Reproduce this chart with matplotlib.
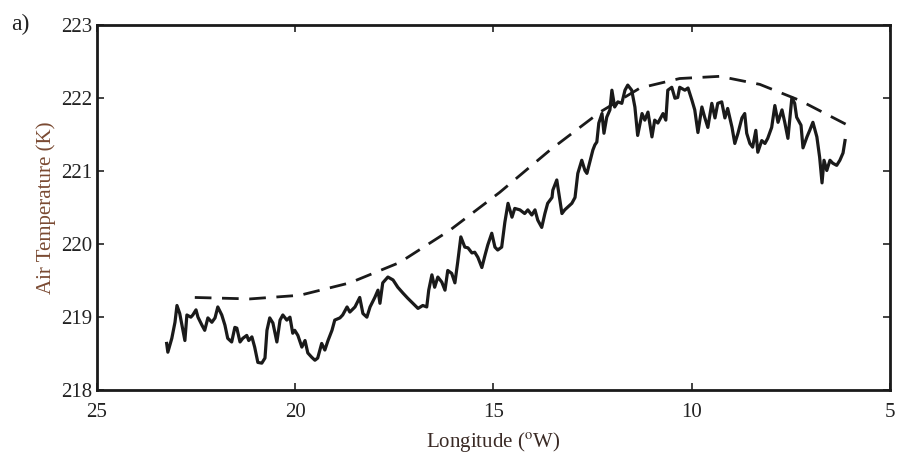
import matplotlib
matplotlib.use("Agg")
import matplotlib.pyplot as plt

plt.rcParams['font.family'] = ['Liberation Serif', 'DejaVu Serif']
plt.rcParams['mathtext.fontset'] = 'stix'

# Measured (noisy) air temperature along the track
lon_obs = [23.24, 23.21, 23.11, 23.03, 22.98, 22.91, 22.83, 22.78, 22.73, 22.63,
           22.58, 22.50, 22.45, 22.35, 22.28, 22.20, 22.10, 22.02, 21.95, 21.85,
           21.77, 21.70, 21.60, 21.52, 21.47, 21.39, 21.32, 21.22, 21.17, 21.09,
           21.02, 20.94, 20.84, 20.76, 20.71, 20.64, 20.56, 20.46, 20.38, 20.31,
           20.21, 20.13, 20.06, 20.01, 19.93, 19.83, 19.75, 19.68, 19.58, 19.50,
           19.43, 19.33, 19.25, 19.17, 19.07, 19.00, 18.87,
           18.80, 18.69, 18.62, 18.49, 18.37, 18.29, 18.19, 18.11, 17.99, 17.91,
           17.86, 17.79, 17.66, 17.53, 17.41, 17.28, 17.16, 17.03, 16.90, 16.78,
           16.68, 16.63, 16.55, 16.48, 16.40, 16.30, 16.22, 16.15, 16.05, 15.97,
           15.90, 15.82, 15.72, 15.64, 15.54, 15.47, 15.39, 15.29, 15.21, 15.14,
           15.04, 14.96, 14.89, 14.79, 14.71,
           14.63, 14.53, 14.46, 14.33, 14.21, 14.13, 14.03, 13.95, 13.88, 13.78,
           13.70, 13.63, 13.52, 13.50, 13.40, 13.35, 13.27, 13.20, 13.12, 13.02,
           12.94, 12.87, 12.77, 12.69, 12.64, 12.57, 12.49, 12.44, 12.39, 12.34,
           12.26, 12.21, 12.14, 12.06, 12.01, 11.94, 11.86, 11.76, 11.68, 11.61,
           11.51, 11.43, 11.36, 11.25, 11.18, 11.10, 11.00, 10.93, 10.85, 10.72,
           10.65, 10.60, 10.50, 10.42, 10.35,
           10.30, 10.17, 10.09, 9.99, 9.92, 9.84, 9.74, 9.67, 9.59, 9.49,
           9.41, 9.34, 9.24, 9.16, 9.09, 8.98, 8.91, 8.83, 8.73, 8.66,
           8.61, 8.53, 8.46, 8.38, 8.33, 8.23, 8.15, 8.08, 7.98, 7.90,
           7.82, 7.72, 7.65, 7.57, 7.47, 7.40, 7.35, 7.24, 7.19, 7.09,
           7.02, 6.94, 6.84, 6.77, 6.71, 6.66, 6.59, 6.51, 6.44, 6.34,
           6.26, 6.18, 6.13]
temp_obs = [218.64, 218.52, 218.71, 218.93, 219.16, 219.05, 218.82, 218.68, 219.03, 219.00,
            219.03, 219.10, 219.00, 218.89, 218.82, 218.99, 218.93, 218.99, 219.14, 219.03,
            218.89, 218.71, 218.66, 218.86, 218.85, 218.66, 218.71, 218.75, 218.68, 218.73,
            218.59, 218.38, 218.37, 218.44, 218.82, 218.99, 218.92, 218.66, 218.96, 219.03,
            218.96, 219.00, 218.78, 218.82, 218.75, 218.59, 218.68, 218.51, 218.45, 218.41,
            218.44, 218.64, 218.55, 218.68, 218.82, 218.96, 218.99,
            219.03, 219.14, 219.07, 219.14, 219.27, 219.05, 219.00, 219.14, 219.27, 219.37,
            219.19, 219.47, 219.55, 219.51, 219.41, 219.33, 219.26, 219.19, 219.12, 219.16,
            219.14, 219.37, 219.58, 219.41, 219.55, 219.48, 219.37, 219.64, 219.60, 219.47,
            219.75, 220.10, 219.96, 219.95, 219.88, 219.89, 219.82, 219.68, 219.85, 219.99,
            220.15, 219.96, 219.92, 219.96, 220.30,
            220.56, 220.37, 220.49, 220.47, 220.42, 220.47, 220.40, 220.47, 220.33, 220.23,
            220.42, 220.56, 220.64, 220.74, 220.88, 220.70, 220.42, 220.47, 220.51, 220.56,
            220.64, 220.97, 221.15, 221.01, 220.97, 221.12, 221.29, 221.36, 221.40, 221.66,
            221.79, 221.52, 221.74, 221.84, 222.11, 221.88, 221.95, 221.93, 222.11, 222.18,
            222.11, 221.88, 221.49, 221.79, 221.70, 221.81, 221.47, 221.70, 221.66, 221.79,
            221.70, 222.11, 222.15, 222.00, 222.01,
            222.15, 222.11, 222.14, 221.97, 221.84, 221.53, 221.88, 221.74, 221.60, 221.93,
            221.73, 221.93, 221.95, 221.73, 221.86, 221.60, 221.38, 221.52, 221.73, 221.79,
            221.52, 221.38, 221.33, 221.56, 221.26, 221.42, 221.38, 221.45, 221.60, 221.90,
            221.67, 221.84, 221.67, 221.45, 222.01, 221.93, 221.74, 221.63, 221.32, 221.47,
            221.56, 221.67, 221.47, 221.19, 220.84, 221.15, 221.01, 221.15, 221.11, 221.08,
            221.15, 221.25, 221.42]

# Model (dashed) air temperature
lon_model = [22.53, 21.14, 19.88, 18.62, 17.36, 16.10, 14.84, 13.57, 12.31, 11.30,
             10.30, 9.29, 8.28, 7.27, 6.06]
temp_model = [219.27, 219.25, 219.30, 219.47, 219.75, 220.19, 220.71, 221.29, 221.81, 222.14,
              222.27, 222.30, 222.19, 221.97, 221.63]

xticks = [25, 20, 15, 10, 5]
yticks = [218, 219, 220, 221, 222, 223]

fig = plt.figure(figsize=(8.97, 4.59), dpi=100)
ax = fig.add_axes([0.108, 0.150, 0.884, 0.795])

ax.plot(lon_obs, temp_obs, color='#1a1a1a', lw=2.3, solid_joinstyle='round')
ax.plot(lon_model, temp_model, color='#1a1a1a', lw=2.0, linestyle=(0, (6, 3.8)))

ax.set_xlim(25, 5)
ax.set_ylim(218, 223)
ax.set_xticks(xticks)
ax.set_yticks(yticks)
ax.set_xticklabels([str(t) for t in xticks])
ax.set_yticklabels([str(t) for t in yticks])

ax.tick_params(direction='in', length=5, width=1.2, labelsize=15, colors='#222222',
               top=True, right=True)
ax.tick_params(axis='x', pad=9)
ax.tick_params(axis='y', pad=3)
for s in ax.spines.values():
    s.set_linewidth(2.0)
    s.set_color('#1a1a1a')

ax.set_xlabel(r'Longitude ($^{\mathrm{o}}$W)', fontsize=15, color='#3a2a25', labelpad=6)
ax.set_ylabel('Air Temperature (K)', fontsize=15, color='#7a4a32', labelpad=4)

fig.text(0.012, 0.935, 'a)', fontsize=17, color='#222222')

fig.savefig('out.png', dpi=100)
